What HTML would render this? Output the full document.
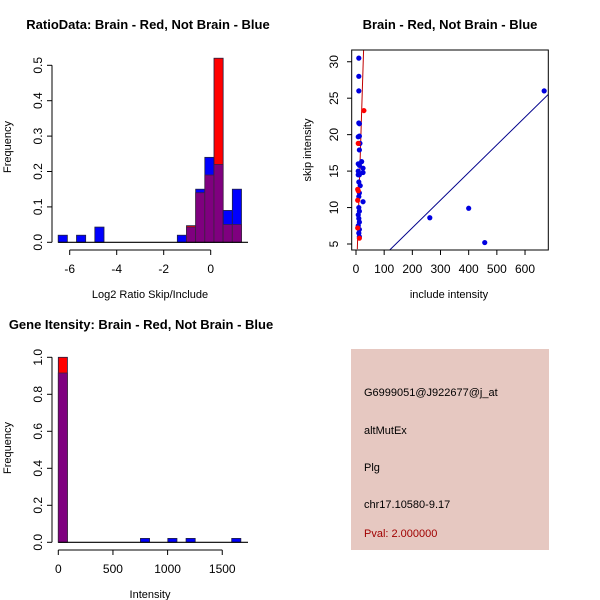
<!DOCTYPE html>
<html><head><meta charset="utf-8"><style>
html,body{margin:0;padding:0;background:#fff;}
svg{display:block;font-family:"Liberation Sans",sans-serif;}
</style></head><body>
<svg id="s" width="600" height="600" viewBox="0 0 600 600">
<rect x="351" y="349" width="198" height="201" fill="#e6c8c1"/>
<g font-size="11" fill="#000">
<text x="364" y="396">G6999051@J922677@j_at</text>
<text x="364" y="434">altMutEx</text>
<text x="364" y="471">Plg</text>
<text x="364" y="508">chr17.10580-9.17</text>
<text x="364" y="537" fill="#a00000">Pval: 2.000000</text>
</g>
</svg>
<script>
// ---- Chart 1 data: ratio histogram
const ratioBreakStart = -6.49, ratioBinWidth = 0.39;
const ratioBlue = [0.02,0,0.02,0,0.043,0,0,0,0,0,0,0,0,0.02,0.043,0.15,0.24,0.22,0.09,0.15];
const ratioRed  = [0,0,0,0,0,0,0,0,0,0,0,0,0,0,0.047,0.14,0.19,0.52,0.05,0.05];
const ratioXTicks = [-6,-4,-2,0];
const ratioYTicks = [0,0.1,0.2,0.3,0.4,0.5];
// ---- Chart 2 data: scatter
const blueX = [10,10,10,10,12,8,12,14,12,20,8,12,25,8,25,8,12,10,15,12,10,25,10,12,8,10,12,8,12,10,12,262,400,457,668];
const blueY = [30.5,28,26,21.6,21.5,19.7,19.8,18.8,17.9,16.3,16,15.8,15.4,15,14.8,14.5,14.5,13.5,13,12,11.5,10.8,10,9.5,9,8.5,8,7.5,7,6.5,6,8.6,9.9,5.2,26];
const redX = [8,28,6,8,6,6,12];
const redY = [18.8,23.3,12.5,12.3,11,7.2,5.8];
const redLine = [4.7,4.3,27,31.7];
const blueLine = [115,4,690,25.8];
const scatXTicks = [0,100,200,300,400,500,600];
const scatYTicks = [5,10,15,20,25,30];
// ---- Chart 3 data: intensity histogram
const intBinWidth = 83.5;
const intBlue = [0.915,0,0,0,0,0,0,0,0,0.021,0,0,0.021,0,0.021,0,0,0,0,0.021];
const intRed  = [1.0,0,0,0,0,0,0,0,0,0,0,0,0,0,0,0,0,0,0,0];
const intXTicks = [0,500,1000,1500];
const intYTicks = [0,0.2,0.4,0.6,0.8,1.0];

const NS="http://www.w3.org/2000/svg", svg=document.getElementById('s');
function el(tag,attrs,parent){const e=document.createElementNS(NS,tag);for(const k in attrs)e.setAttribute(k,attrs[k]);(parent||svg).appendChild(e);return e;}
function txt(x,y,s,attrs){const t=el('text',Object.assign({x:x,y:y,'font-size':11,'text-anchor':'middle'},attrs||{}));t.textContent=s;return t;}

function yAxis(g,ax,sy,ticks,fmt){
  el('line',{x1:ax,x2:ax,y1:sy(ticks[0]),y2:sy(ticks[ticks.length-1]),stroke:'#000'},g);
  ticks.forEach(v=>{const y=sy(v);el('line',{x1:ax-5,x2:ax,y1:y,y2:y,stroke:'#000'},g);
    const t=txt(ax-14,y+4,fmt(v),{'font-size':12,transform:`rotate(-90 ${ax-14} ${y})`});g.appendChild(t);
    });
}
function xAxis(g,ay,sx,ticks,fmt){
  el('line',{x1:sx(ticks[0]),x2:sx(ticks[ticks.length-1]),y1:ay,y2:ay,stroke:'#000'},g);
  ticks.forEach(v=>{const x=sx(v);el('line',{x1:x,x2:x,y1:ay,y2:ay+5,stroke:'#000'},g);
    const t=txt(x,ay+23,fmt(v),{'font-size':12});g.appendChild(t);
    });
}
function hist(g,blue,red,edge,sx,sy){
  for(let i=0;i<blue.length;i++){
    const b=blue[i],r=red[i];if(b===0&&r===0)continue;
    const x0=sx(edge(i)),x1=sx(edge(i+1)),mx=Math.max(b,r),mn=Math.min(b,r);
    const top=el('rect',{x:x0,y:sy(mx),width:x1-x0,height:sy(0)-sy(mx),fill:r>b?'#ff0000':'#0000ff',stroke:'#202040','stroke-width':0.8},g);
    
    if(mn>0){const p=el('rect',{x:x0,y:sy(mn),width:x1-x0,height:sy(0)-sy(mn),fill:'#7f007f',stroke:'#402040','stroke-width':0.8},g);
      }
  }
}

// Chart 1
{const g=el('g',{});
 const sx=v=>210.7+23.5*v, sy=v=>242.3-354*v;
 hist(g,ratioBlue,ratioRed,i=>ratioBreakStart+i*ratioBinWidth,sx,sy);
 el('line',{x1:sx(ratioBreakStart),x2:248,y1:242.3,y2:242.3,stroke:'#000','stroke-width':1.2},g);
 yAxis(g,52,sy,ratioYTicks,v=>v.toFixed(1));xAxis(g,250,sx,ratioXTicks,v=>String(v));
 txt(148,29,'RatioData: Brain - Red, Not Brain - Blue',{'font-weight':'bold','font-size':13,});
 txt(150,298,'Log2 Ratio Skip/Include',{});
 txt(11,147,'Frequency',{transform:'rotate(-90 11 147)',});}

// Chart 2
{const g=el('g',{});
 const sx=v=>356+0.2817*v, sy=v=>244-7.29*(v-5);
 const cp=el('clipPath',{id:'cp'},g);el('rect',{x:352,y:50,width:196,height:200},cp);
 const lr=el('line',{x1:sx(redLine[0]),y1:sy(redLine[1]),x2:sx(redLine[2]),y2:sy(redLine[3]),stroke:'#c00000','clip-path':'url(#cp)'},g);
 
 const lb=el('line',{x1:sx(blueLine[0]),y1:sy(blueLine[1]),x2:sx(blueLine[2]),y2:sy(blueLine[3]),stroke:'#00008b','clip-path':'url(#cp)'},g);
 
 blueX.forEach((x,i)=>{const c=el('circle',{cx:sx(x),cy:sy(blueY[i]),r:2.6,fill:'#0000e0'},g);
   });
 redX.forEach((x,i)=>{const c=el('circle',{cx:sx(x),cy:sy(redY[i]),r:2.6,fill:'#ff0000'},g);
   });
 el('rect',{x:351.7,y:50,width:196.6,height:200,fill:'none',stroke:'#000'},g);
 scatYTicks.forEach(v=>{const y=sy(v);el('line',{x1:347,x2:352,y1:y,y2:y,stroke:'#000'},g);
   const t=txt(334,y+4,String(v),{'font-size':12,transform:`rotate(-90 334 ${y})`});g.appendChild(t);
   });
 scatXTicks.forEach(v=>{const x=sx(v);el('line',{x1:x,x2:x,y1:250,y2:255,stroke:'#000'},g);
   const t=txt(x,273,String(v),{'font-size':12});g.appendChild(t);
   });
 txt(450,29,'Brain - Red, Not Brain - Blue',{'font-weight':'bold','font-size':13,});
 txt(449,298,'include intensity',{});
 txt(311,150,'skip intensity',{transform:'rotate(-90 311 150)',});}

// Chart 3
{const g=el('g',{});
 const sx=v=>58.3+0.1093*v, sy=v=>542.3-185*v;
 hist(g,intBlue,intRed,i=>i*intBinWidth,sx,sy);
 el('line',{x1:58.3,x2:248,y1:542.3,y2:542.3,stroke:'#000','stroke-width':1.2},g);
 yAxis(g,52,sy,intYTicks,v=>v.toFixed(1));xAxis(g,550,sx,intXTicks,v=>String(v));
 txt(141,329,'Gene Itensity: Brain - Red, Not Brain - Blue',{'font-weight':'bold','font-size':13,});
 txt(150,598,'Intensity',{});
 txt(11,448,'Frequency',{transform:'rotate(-90 11 448)',});}
</script>
</body></html>
